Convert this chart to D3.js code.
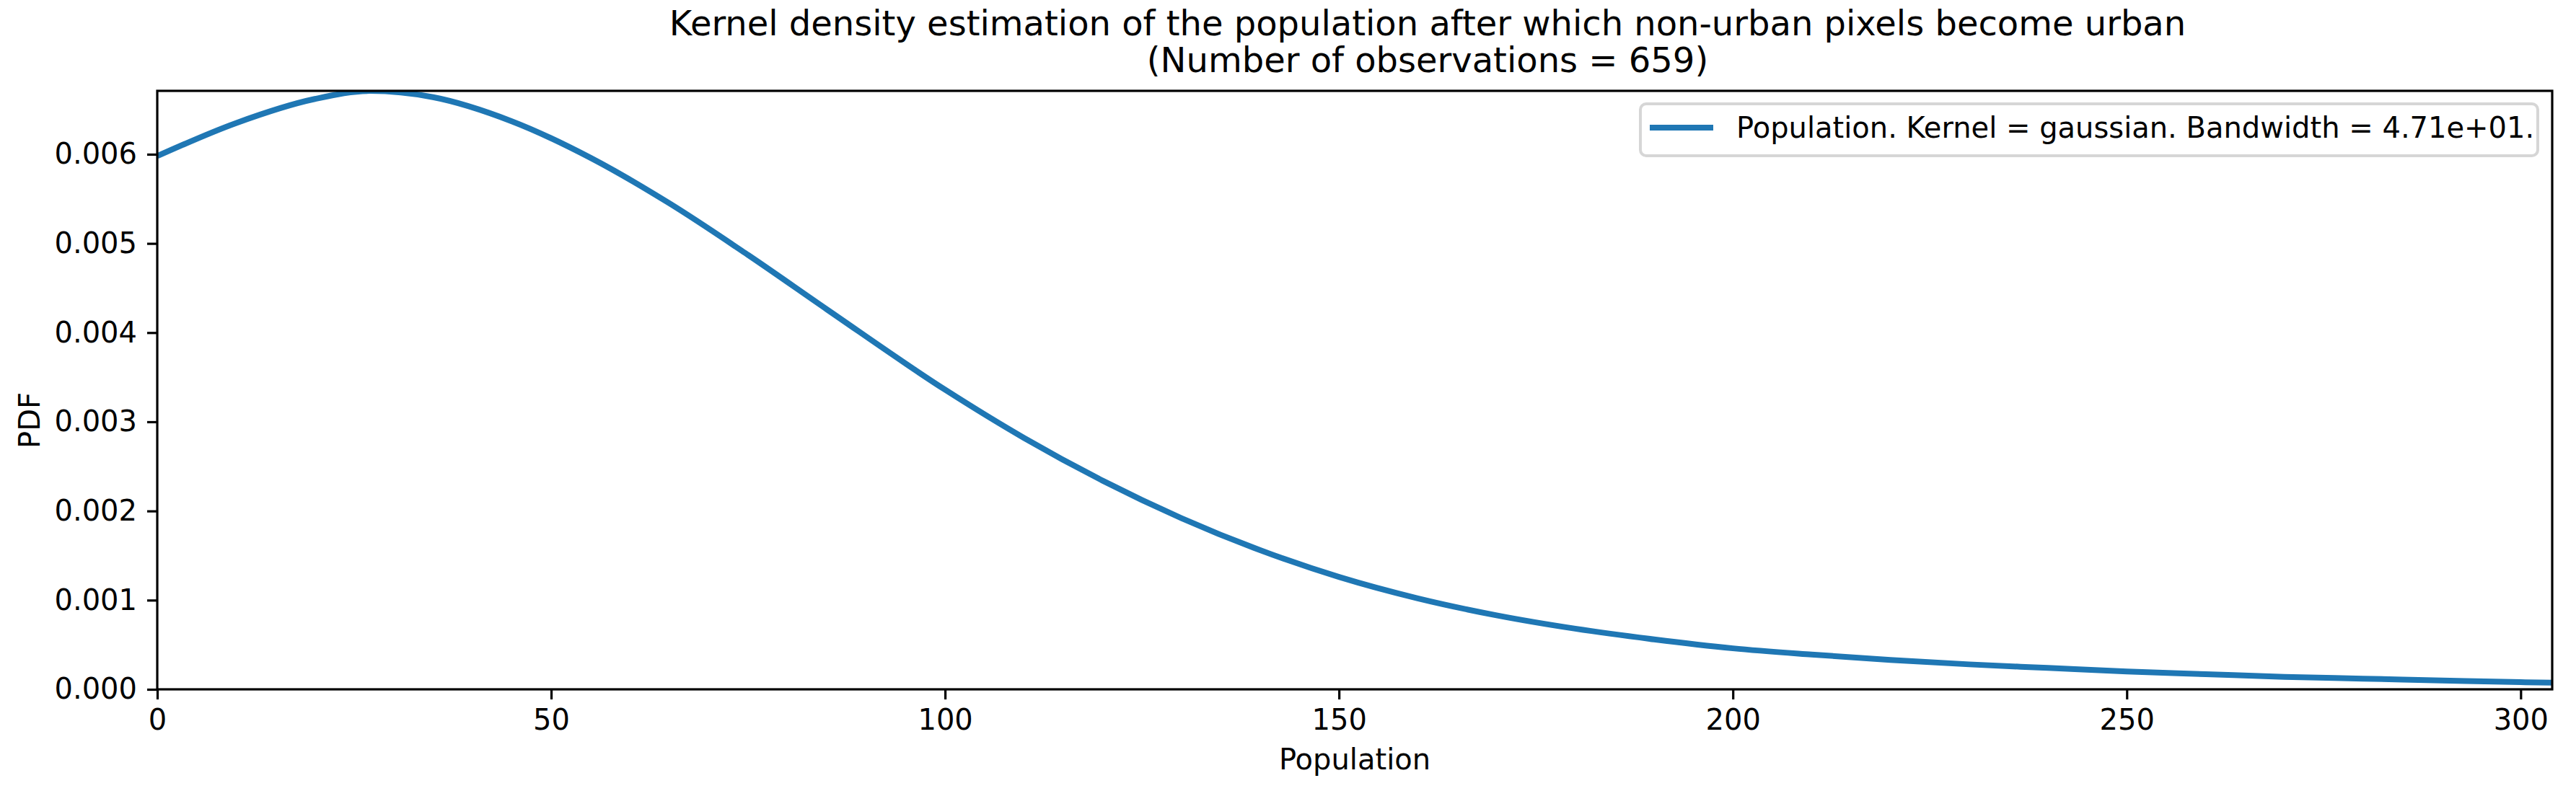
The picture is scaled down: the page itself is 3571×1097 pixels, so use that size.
<!DOCTYPE html>
<html>
<head>
<meta charset="utf-8">
<script src="https://cdn.jsdelivr.net/npm/d3@7"></script>
<style>
  body { margin: 0; background: #fff; }
  text { font-family: "DejaVu Sans", sans-serif; fill: #000; }
</style>
</head>
<body>
<script>
'use strict';

const WIDTH  = 3571;
const HEIGHT = 1097;

// data
const population = [0, 10, 20, 27, 35, 45, 55, 65, 75, 85, 100, 110, 120, 130, 140, 150,
                    160, 170, 180, 190, 200, 210, 220, 230, 240, 250, 260, 270, 280, 290, 300, 304];
const pdf = [0.00598, 0.00635, 0.00662, 0.00671, 0.00664, 0.00637, 0.00596, 0.00545, 0.00487,
             0.00426, 0.00336, 0.00282, 0.00234, 0.00192, 0.00156, 0.00126, 0.00102, 0.00083,
             0.00068, 0.00056, 0.00046, 0.00039, 0.00033, 0.00028, 0.00024, 0.00020, 0.00017,
             0.00014, 0.00012, 0.00010, 0.00008, 0.000075];
const xTicks = [0, 50, 100, 150, 200, 250, 300];
const yTicks = [0, 0.001, 0.002, 0.003, 0.004, 0.005, 0.006];
const titleLines = ['Kernel density estimation of the population after which non-urban pixels become urban',
                    '(Number of observations = 659)'];
const legendLabel = 'Population. Kernel = gaussian. Bandwidth = 4.71e+01.';

const margin = {left: 218, right: WIDTH - 3538, top: 126, bottom: HEIGHT - 956};
const plotW = WIDTH - margin.left - margin.right;
const plotH = HEIGHT - margin.top - margin.bottom;

const svg = d3.select('body').append('svg')
  .attr('width', WIDTH)
  .attr('height', HEIGHT);

const x = d3.scaleLinear().domain([0, 304]).range([0, plotW]);
const y = d3.scaleLinear().domain([0, 0.006711]).range([plotH, 0]);

const g = svg.append('g')
  .attr('transform', `translate(${margin.left},${margin.top})`);

// curve
const line = d3.line()
  .x((d, i) => x(population[i]))
  .y(d => y(d))
  .curve(d3.curveMonotoneX);

g.append('defs').append('clipPath').attr('id', 'clip')
  .append('rect').attr('width', plotW).attr('height', plotH);

g.append('path')
  .datum(pdf)
  .attr('clip-path', 'url(#clip)')
  .attr('fill', 'none')
  .attr('stroke', '#1f77b4')
  .attr('stroke-width', 8)
  .attr('d', line);

// axes
const xAxis = g.append('g')
  .attr('transform', `translate(0,${plotH})`)
  .call(d3.axisBottom(x).tickValues(xTicks).tickSize(14).tickPadding(14).tickFormat(d3.format('d')));
const yAxis = g.append('g')
  .call(d3.axisLeft(y).tickValues(yTicks).tickSize(14).tickPadding(14).tickFormat(d3.format('.3f')));

[xAxis, yAxis].forEach(a => {
  a.select('.domain').remove();
  a.selectAll('line').attr('stroke', '#000').attr('stroke-width', 3.2);
  a.selectAll('text').attr('font-size', 40).attr('font-family', '"DejaVu Sans", sans-serif').attr('fill', '#000');
});

// frame
g.append('rect')
  .attr('width', plotW)
  .attr('height', plotH)
  .attr('fill', 'none')
  .attr('stroke', '#000')
  .attr('stroke-width', 3.2);

// labels
svg.append('text')
  .attr('x', margin.left + plotW / 2)
  .attr('y', 1067)
  .attr('text-anchor', 'middle')
  .attr('font-size', 40)
  .text('Population');

svg.append('text')
  .attr('transform', 'translate(55,583) rotate(-90)')
  .attr('text-anchor', 'middle')
  .attr('font-size', 40)
  .text('PDF');

svg.selectAll('text.title')
  .data(titleLines)
  .enter().append('text')
    .attr('class', 'title')
    .attr('x', 1979)
    .attr('y', (d, i) => 49 + i * 51)
    .attr('text-anchor', 'middle')
    .attr('font-size', 48)
    .text(d => d);

// legend
const lg = svg.append('g');
lg.append('rect')
  .attr('x', 2274).attr('y', 144)
  .attr('width', 3518 - 2274).attr('height', 216 - 144)
  .attr('rx', 8)
  .attr('fill', '#fff')
  .attr('stroke', '#d6d6d6')
  .attr('stroke-width', 4);
lg.append('line')
  .attr('x1', 2287).attr('x2', 2375)
  .attr('y1', 177).attr('y2', 177)
  .attr('stroke', '#1f77b4')
  .attr('stroke-width', 8);
lg.append('text')
  .attr('x', 2407).attr('y', 191)
  .attr('font-size', 40)
  .text(legendLabel);
</script>
</body>
</html>
